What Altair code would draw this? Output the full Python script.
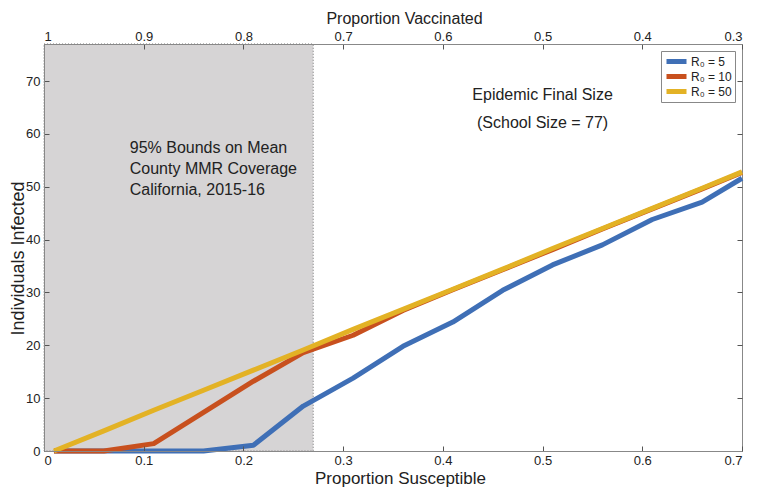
import altair as alt
import pandas as pd

# ---------------- data ----------------
prop_susceptible = [0.01, 0.06, 0.11, 0.16, 0.21, 0.26, 0.31, 0.36, 0.41, 0.46, 0.51, 0.56, 0.61, 0.66, 0.70]
r0_5 = [0, 0, 0, 0, 1.1, 8.5, 13.8, 19.8, 24.4, 30.4, 35.2, 39.0, 43.8, 47.1, 51.6]
r0_10 = [0, 0, 1.4, 7.3, 13.2, 18.6, 21.9, 26.6, 30.5, 34.3, 38.1, 42.0, 45.8, 49.6, 52.7]
r0_50 = [0, 3.8, 7.7, 11.5, 15.3, 19.1, 23.0, 26.8, 30.6, 34.4, 38.3, 42.1, 45.9, 49.7, 52.8]

series_labels = ["R\u2080 = 5", "R\u2080 = 10", "R\u2080 = 50"]
series_colors = ["#3F6FB6", "#C8501E", "#E3B225"]

x_ticks = [0, 0.1, 0.2, 0.3, 0.4, 0.5, 0.6, 0.7]
top_ticks = [1, 0.9, 0.8, 0.7, 0.6, 0.5, 0.4, 0.3]
y_ticks = [0, 10, 20, 30, 40, 50, 60, 70]
shade_bounds = [0.0, 0.27]
x_domain = [0, 0.7]
y_domain = [0, 77]

note_left = ["95% Bounds on Mean", "County MMR Coverage", "California, 2015-16"]
note_right = ["Epidemic Final Size", "(School Size = 77)"]

W, H = 698, 407
FONT = "Liberation Sans"
AX = "#888888"
TXT = "#222222"

rows = []
for lab, vals in zip(series_labels, [r0_5, r0_10, r0_50]):
    for xv, yv in zip(prop_susceptible, vals):
        rows.append({"susceptible": xv, "infected": yv, "series": lab})
df = pd.DataFrame(rows)

shade_df = pd.DataFrame({"lo": [shade_bounds[0]], "hi": [shade_bounds[1]],
                         "ylo": [y_domain[0]], "yhi": [y_domain[1]]})
top_df = pd.DataFrame({"vacc": top_ticks})

xs = alt.Scale(domain=x_domain, nice=False, zero=False)
ys = alt.Scale(domain=y_domain, nice=False, zero=False)

bottom_axis = alt.Axis(
    orient="bottom", values=x_ticks, format=".1~f", title="Proportion Susceptible",
    ticks=False, grid=True, gridDash=[5, H - 10], gridColor="#555555", gridWidth=1,
    labelPadding=3, labelFontSize=13, titleFontSize=17,
    titleBaseline="alphabetic", titleAlign="center", titleY=32, titleX=356, zindex=1,
)
left_axis = alt.Axis(
    orient="left", values=y_ticks, format="d", title="Individuals Infected",
    ticks=False, grid=True, gridDash=[5, W - 10], gridColor="#555555", gridWidth=1,
    labelPadding=4, labelFontSize=13, titleFontSize=18,
    titleBaseline="alphabetic", titleAlign="center", titleX=-21, titleY=214,
    titleAngle=-90, zindex=1,
)
top_axis = alt.Axis(
    orient="top", values=top_ticks, format=".1~f", title="Proportion Vaccinated",
    ticks=False, grid=False, labelPadding=1, labelFontSize=13, titleFontSize=16,
    titleBaseline="alphabetic", titleAlign="center", titleY=-21, titleX=360, zindex=1,
)

shade = alt.Chart(shade_df).mark_rect(
    color="#D6D4D5", stroke="#777777", strokeDash=[1, 2], strokeWidth=1
).encode(
    x=alt.X("lo:Q", scale=xs, axis=bottom_axis),
    x2="hi:Q",
    y=alt.Y("ylo:Q", scale=ys, axis=left_axis),
    y2="yhi:Q",
)

lines = alt.Chart(df).mark_line(strokeWidth=5, strokeCap="butt", strokeJoin="round").encode(
    x=alt.X("susceptible:Q", scale=xs, axis=None),
    y=alt.Y("infected:Q", scale=ys, axis=None),
    color=alt.Color(
        "series:N",
        scale=alt.Scale(domain=series_labels, range=series_colors),
        sort=series_labels,
        legend=alt.Legend(
            orient="none", legendX=617, legendY=7, title=None,
            symbolType="stroke", symbolStrokeWidth=5, symbolSize=400,
            clipHeight=15, labelFontSize=12, labelFont=FONT, labelColor=TXT,
            labelOffset=2, rowPadding=0, padding=3, strokeColor=AX, fillColor="white",
        ),
    ),
    order=alt.Order("susceptible:Q"),
)

left_note = alt.Chart(pd.DataFrame({"a": [0]})).mark_text(
    text=note_left, align="left", baseline="middle", lineHeight=21,
    fontSize=16, font=FONT, color=TXT,
).encode(
    x=alt.XDatum(0.086, type="quantitative", scale=xs, axis=None),
    y=alt.YDatum(57.3, type="quantitative", scale=ys, axis=None),
)

right_note = alt.Chart(pd.DataFrame({"a": [0]})).mark_text(
    text=note_right, align="center", baseline="middle", lineHeight=28,
    fontSize=16, font=FONT, color=TXT,
).encode(
    x=alt.XDatum(0.50, type="quantitative", scale=xs, axis=None),
    y=alt.YDatum(67.3, type="quantitative", scale=ys, axis=None),
)

top = alt.Chart(top_df).mark_point(opacity=0).encode(
    x=alt.X("vacc:Q", scale=alt.Scale(domain=[1, 0.3], nice=False, zero=False), axis=top_axis),
)

chart = alt.layer(shade, lines, left_note, right_note, top).resolve_scale(
    x="independent", y="independent", color="independent"
).properties(
    width=W, height=H,
    padding={"left": 36, "top": 36, "right": 9, "bottom": 36},
    autosize=alt.AutoSizeParams(type="none"),
).configure_view(
    stroke=AX, strokeWidth=1
).configure_axis(
    labelFont=FONT, titleFont=FONT, labelColor=TXT, titleColor=TXT,
    domainColor=AX, titleFontWeight="normal",
)

chart.save("out.html", embed_options={"renderer": "svg", "actions": False})
